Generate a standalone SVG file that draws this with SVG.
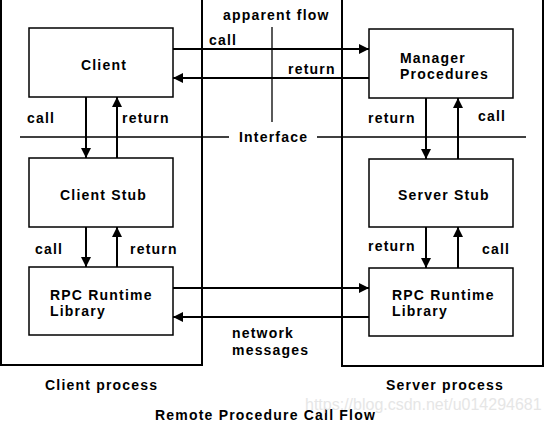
<svg xmlns="http://www.w3.org/2000/svg" width="545" height="426" viewBox="0 0 545 426">
<defs>
<marker id="ah" markerWidth="10" markerHeight="10" refX="10" refY="5" orient="auto" markerUnits="userSpaceOnUse">
<path d="M0,0 L10,5 L0,10 Z" fill="#000"/>
</marker>
<style>
.proc{fill:none;stroke:#000;stroke-width:2}
.box{fill:#fff;stroke:#000;stroke-width:1.5}
.t{font-family:"Liberation Sans",Arial,sans-serif;font-weight:bold;font-size:14px;letter-spacing:1.2px;fill:#000}
.ln{stroke:#000;stroke-width:2;fill:none}
.ar{stroke:#000;stroke-width:2;fill:none;marker-end:url(#ah)}
.thin{stroke:#000;stroke-width:1.3;fill:none}
</style>
</defs>
<rect width="545" height="426" fill="#fff"/>
<g id="client-process">
<rect class="proc" x="1" y="-5" width="201" height="370"/>
<text class="t" x="45" y="390">Client process</text>
</g>
<g id="server-process">
<rect class="proc" x="342" y="-5" width="201" height="371"/>
<text class="t" x="386" y="390">Server process</text>
</g>
<g id="connectors">
<line class="thin" x1="272" y1="27" x2="272" y2="122"/>
<line class="thin" x1="20" y1="137" x2="229" y2="137"/>
<line class="thin" x1="317" y1="137" x2="526" y2="137"/>
<line class="ar" x1="173" y1="49" x2="369" y2="49"/>
<line class="ar" x1="369" y1="78" x2="173" y2="78"/>
<line class="ar" x1="86" y1="97" x2="86" y2="158"/>
<line class="ar" x1="117" y1="158" x2="117" y2="97"/>
<line class="ar" x1="426" y1="98" x2="426" y2="159"/>
<line class="ar" x1="458" y1="159" x2="458" y2="98"/>
<line class="ar" x1="86" y1="227" x2="86" y2="267"/>
<line class="ar" x1="117" y1="267" x2="117" y2="227"/>
<line class="ar" x1="426" y1="227" x2="426" y2="268"/>
<line class="ar" x1="458" y1="268" x2="458" y2="227"/>
<line class="ar" x1="173" y1="288" x2="369" y2="288"/>
<line class="ar" x1="369" y1="317" x2="173" y2="317"/>
<text class="t" x="223" y="20">apparent flow</text>
<text class="t" x="209" y="45">call</text>
<text class="t" x="288" y="74">return</text>
<text class="t" x="239" y="142">Interface</text>
<text class="t" x="27" y="123">call</text>
<text class="t" x="122" y="123">return</text>
<text class="t" x="368" y="123">return</text>
<text class="t" x="478" y="121">call</text>
<text class="t" x="35" y="254">call</text>
<text class="t" x="130" y="254">return</text>
<text class="t" x="368" y="251">return</text>
<text class="t" x="482" y="254">call</text>
<text class="t" x="232" y="338">network</text>
<text class="t" x="232" y="355">messages</text>
</g>
<g id="client">
<rect class="box" x="29" y="28" width="144" height="69"/>
<text class="t" x="104" y="70" text-anchor="middle">Client</text>
</g>
<g id="client-stub">
<rect class="box" x="29" y="158" width="144" height="69"/>
<text class="t" x="60" y="200">Client Stub</text>
</g>
<g id="rpc-client">
<rect class="box" x="29" y="267" width="144" height="68"/>
<text class="t" x="50" y="300">RPC Runtime</text>
<text class="t" x="50" y="316">Library</text>
</g>
<g id="manager">
<rect class="box" x="369" y="29" width="144" height="69"/>
<text class="t" x="400" y="63">Manager</text>
<text class="t" x="400" y="79">Procedures</text>
</g>
<g id="server-stub">
<rect class="box" x="369" y="159" width="144" height="68"/>
<text class="t" x="398" y="200">Server Stub</text>
</g>
<g id="rpc-server">
<rect class="box" x="369" y="268" width="144" height="68"/>
<text class="t" x="392" y="300">RPC Runtime</text>
<text class="t" x="392" y="316">Library</text>
</g>
<g id="title">
<text class="t" x="155" y="420">Remote Procedure Call Flow</text>
<text x="305" y="410" font-family="Liberation Sans,Arial,sans-serif" font-size="16" fill="#e6e6e6">https://blog.csdn.net/u014294681</text>
</g>
</svg>
